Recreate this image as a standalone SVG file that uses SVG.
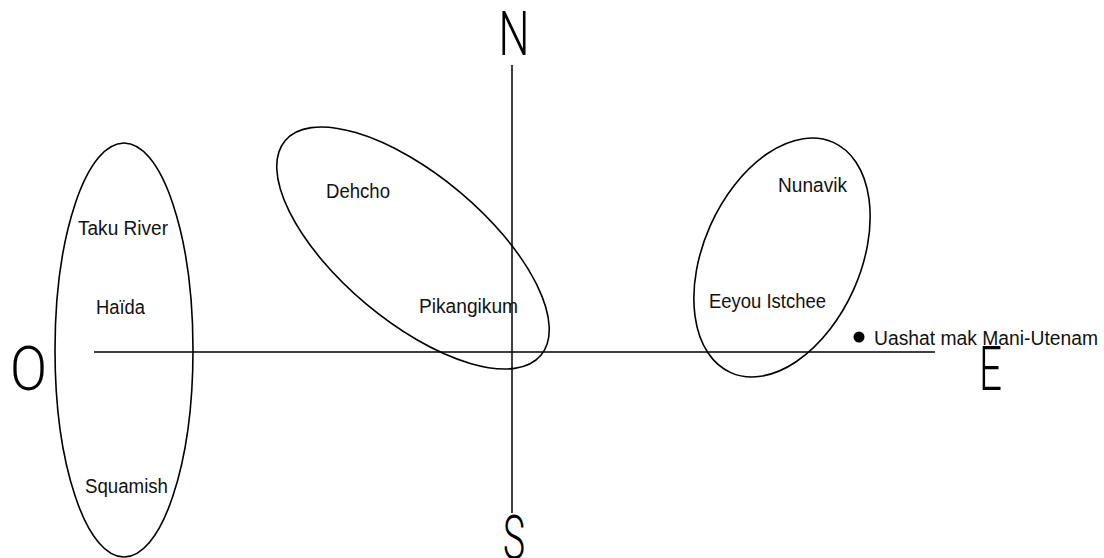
<svg xmlns="http://www.w3.org/2000/svg" width="1104" height="558" viewBox="0 0 1104 558">
<style>
.ax{stroke:#000;stroke-width:1.5;fill:none}
.el{stroke:#000;stroke-width:1.6;fill:none}
.lb{font-family:"Liberation Sans",Arial,sans-serif;font-size:20px;fill:#111}
.big{font-family:Roboto,"Liberation Sans",Arial,sans-serif;font-weight:300;font-size:61px;fill:#000;text-anchor:middle}
</style>
<rect width="1104" height="558" fill="#fff"/>
<g id="connectors">
<line class="ax" x1="512" y1="65" x2="512" y2="513"/>
<line class="ax" x1="94" y1="352" x2="935" y2="352"/>
</g>
<g id="compass">
<text class="big" x="514" y="55" textLength="31" lengthAdjust="spacingAndGlyphs">N</text>
<text class="big" x="28.5" y="390" textLength="37" lengthAdjust="spacingAndGlyphs">O</text>
<text class="big" x="990.5" y="390" textLength="23" lengthAdjust="spacingAndGlyphs">E</text>
<text class="big" x="514" y="559" textLength="22" lengthAdjust="spacingAndGlyphs">S</text>
</g>
<g id="west-group">
<ellipse class="el" cx="124" cy="350" rx="69" ry="207"/>
<text class="lb" x="78" y="235" textLength="90" lengthAdjust="spacingAndGlyphs">Taku River</text>
<text class="lb" x="96" y="314" textLength="49" lengthAdjust="spacingAndGlyphs">Haïda</text>
<text class="lb" x="85" y="493" textLength="83" lengthAdjust="spacingAndGlyphs">Squamish</text>
</g>
<g id="center-group">
<ellipse class="el" cx="413" cy="248" rx="167" ry="73" transform="rotate(40 413 248)"/>
<text class="lb" x="326" y="198" textLength="64" lengthAdjust="spacingAndGlyphs">Dehcho</text>
<text class="lb" x="419" y="313" textLength="99" lengthAdjust="spacingAndGlyphs">Pikangikum</text>
</g>
<g id="east-group">
<ellipse class="el" cx="782" cy="257.5" rx="78.5" ry="126" transform="rotate(24 782 257.5)"/>
<text class="lb" x="778" y="192" textLength="69" lengthAdjust="spacingAndGlyphs">Nunavik</text>
<text class="lb" x="709" y="308" textLength="117" lengthAdjust="spacingAndGlyphs">Eeyou Istchee</text>
</g>
<g id="uashat">
<circle cx="859" cy="337" r="5.5" fill="#000"/>
<text class="lb" x="874" y="345" textLength="224" lengthAdjust="spacingAndGlyphs">Uashat mak Mani-Utenam</text>
</g>
</svg>
